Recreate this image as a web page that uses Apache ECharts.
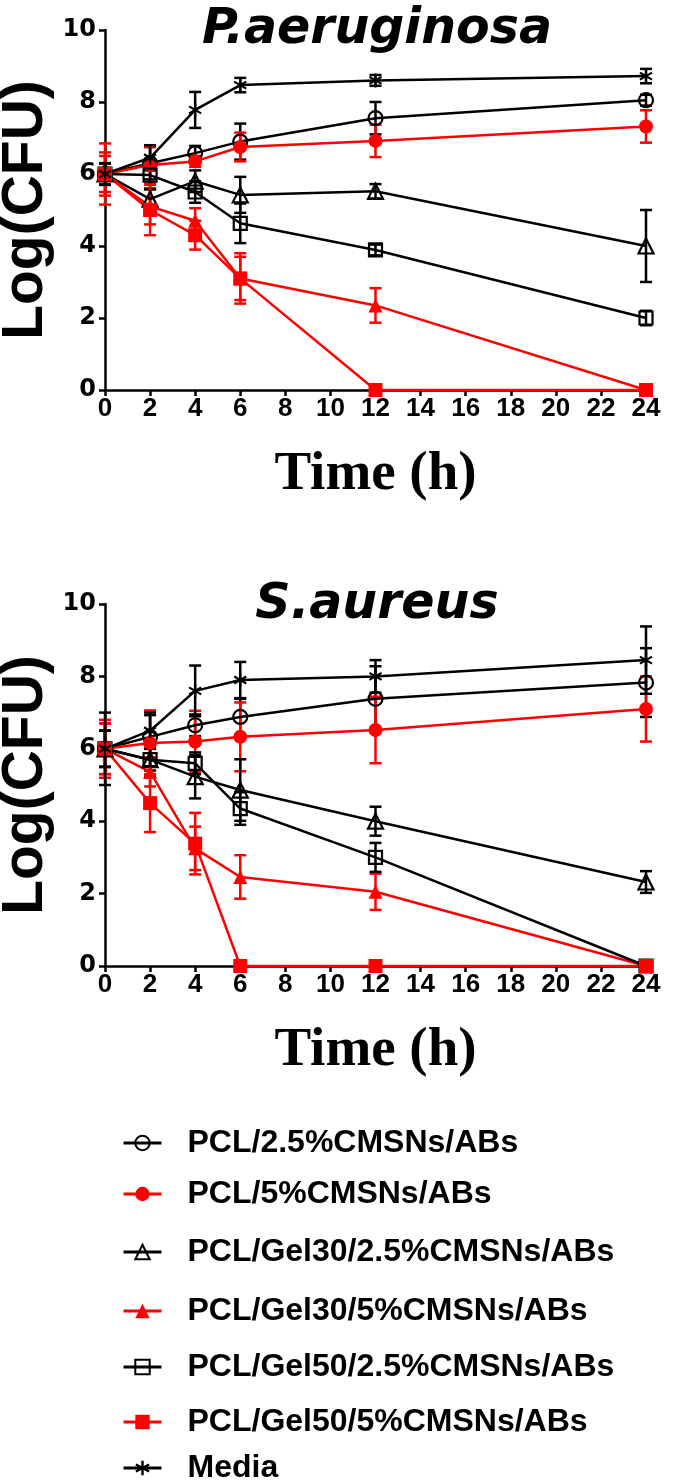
<!DOCTYPE html>
<html><head><meta charset="utf-8">
<script src="https://cdn.jsdelivr.net/npm/echarts@6/dist/echarts.min.js"></script>
<style>html,body{margin:0;padding:0;background:#fff}#c{width:685px;height:1482px}</style>
</head><body><div id="c"></div>
<script>
// ---- data ----
const times = [0, 2, 4, 6, 12, 24];
const xTicks = [0, 2, 4, 6, 8, 10, 12, 14, 16, 18, 20, 22, 24];
const yTicks = [0, 2, 4, 6, 8, 10];
const seriesNames = ['PCL/2.5%CMSNs/ABs', 'PCL/5%CMSNs/ABs', 'PCL/Gel30/2.5%CMSNs/ABs',
  'PCL/Gel30/5%CMSNs/ABs', 'PCL/Gel50/2.5%CMSNs/ABs', 'PCL/Gel50/5%CMSNs/ABs', 'Media'];
const panelTitles = ['P.aeruginosa', 'S.aureus'];

// P. aeruginosa (means, SD)
const pa_c25 = [6.0, 6.3, 6.58, 6.9, 7.55, 8.05];
const pa_c25_err = [0.3, 0.45, 0.2, 0.5, 0.45, 0.15];
const pa_c5 = [6.0, 6.25, 6.35, 6.75, 6.92, 7.32];
const pa_c5_err = [0.85, 0.5, 0.15, 0.4, 0.45, 0.45];
const pa_g30_25 = [6.0, 5.3, 5.8, 5.42, 5.52, 4.0];
const pa_g30_25_err = [0.3, 0.3, 0.3, 0.5, 0.2, 1.0];
const pa_g30_5 = [6.0, 5.1, 4.7, 3.1, 2.35, 0];
const pa_g30_5_err = [0.5, 0.5, 0.35, 0.6, 0.48, 0];
const pa_g50_25 = [6.0, 5.97, 5.5, 4.63, 3.89, 2.0];
const pa_g50_25_err = [0.3, 0.4, 0.3, 0.55, 0.15, 0.2];
const pa_g50_5 = [6.0, 5.0, 4.3, 3.1, 0, 0];
const pa_g50_5_err = [0.6, 0.7, 0.4, 0.7, 0, 0];
const pa_media = [6.0, 6.45, 7.78, 8.47, 8.6, 8.72];
const pa_media_err = [0.3, 0.35, 0.5, 0.2, 0.15, 0.2];

// S. aureus (means, SD)
const sa_c25 = [6.0, 6.33, 6.65, 6.88, 7.38, 7.83];
const sa_c25_err = [0.5, 0.6, 0.3, 0.5, 0.9, 0.95];
const sa_c5 = [6.0, 6.16, 6.2, 6.33, 6.52, 7.1];
const sa_c5_err = [0.8, 0.9, 0.85, 0.95, 0.92, 0.9];
const sa_g30_25 = [6.0, 5.7, 5.23, 4.86, 4.0, 2.32];
const sa_g30_25_err = [0.5, 0.5, 0.6, 0.85, 0.4, 0.3];
const sa_g30_5 = [6.0, 5.36, 3.25, 2.46, 2.05, 0];
const sa_g30_5_err = [0.7, 0.4, 0.6, 0.6, 0.5, 0];
const sa_g50_25 = [6.0, 5.7, 5.6, 4.35, 3.0, 0];
const sa_g50_25_err = [0.5, 0.3, 0.3, 0.45, 0.4, 0];
const sa_g50_5 = [6.0, 4.5, 3.38, 0, 0, 0];
const sa_g50_5_err = [0.7, 0.8, 0.85, 0, 0, 0];
const sa_media = [6.0, 6.5, 7.6, 7.9, 8.0, 8.45];
const sa_media_err = [1.0, 0.5, 0.7, 0.5, 0.45, 0.93];

// ---- styling ----
const RED = '#ff0000', BLACK = '#000000';
const ASTERISK = 'path://M-1.1,-7L1.1,-7L1.1,7L-1.1,7Z M-5.5,-4.45L6.6,2.55L5.5,4.45L-6.6,-2.55Z M-6.6,2.55L5.5,-4.45L6.6,-2.55L-5.5,4.45Z';
const styles = [
  {color: BLACK, symbol: 'circle', size: 14, fill: 'transparent'},
  {color: RED, symbol: 'circle', size: 14, fill: RED},
  {color: BLACK, symbol: 'triangle', size: 15, fill: 'transparent'},
  {color: RED, symbol: 'triangle', size: 14, fill: RED},
  {color: BLACK, symbol: 'rect', size: 13, fill: 'transparent'},
  {color: RED, symbol: 'rect', size: 14, fill: RED},
  {color: BLACK, symbol: ASTERISK, size: 14, fill: BLACK}
];
const panels = [
  {means: [pa_c25, pa_c5, pa_g30_25, pa_g30_5, pa_g50_25, pa_g50_5, pa_media],
   errs: [pa_c25_err, pa_c5_err, pa_g30_25_err, pa_g30_5_err, pa_g50_25_err, pa_g50_5_err, pa_media_err]},
  {means: [sa_c25, sa_c5, sa_g30_25, sa_g30_5, sa_g50_25, sa_g50_5, sa_media],
   errs: [sa_c25_err, sa_c5_err, sa_g30_25_err, sa_g30_5_err, sa_g50_25_err, sa_g50_5_err, sa_media_err]}
];

function errRender(color) {
  return function (params, api) {
    const x = api.value(0), y = api.value(1), e = api.value(2);
    if (!e) return null;
    const a = api.coord([x, y + e]), b = api.coord([x, y - e]);
    const w = 6, st = {stroke: color, lineWidth: 2.5};
    return {type: 'group', children: [
      {type: 'line', shape: {x1: a[0], y1: a[1], x2: b[0], y2: b[1]}, style: st},
      {type: 'line', shape: {x1: a[0] - w, y1: a[1], x2: a[0] + w, y2: a[1]}, style: st},
      {type: 'line', shape: {x1: b[0] - w, y1: b[1], x2: b[0] + w, y2: b[1]}, style: st}
    ]};
  };
}

const series = [];
panels.forEach((p, g) => {
  seriesNames.forEach((name, i) => {
    const s = styles[i];
    series.push({
      type: 'custom', name: name + ' SD', xAxisIndex: g, yAxisIndex: g,
      data: times.map((t, j) => [t, p.means[i][j], p.errs[i][j]]),
      renderItem: errRender(s.color), silent: true
    });
    series.push({
      type: 'line', name: name, xAxisIndex: g, yAxisIndex: g,
      data: times.map((t, j) => [t, p.means[i][j]]),
      symbol: s.symbol, symbolSize: s.size, symbolKeepAspect: true, showAllSymbol: true,
      lineStyle: {color: s.color, width: 2.5},
      itemStyle: {color: s.fill, borderColor: s.color, borderWidth: s.fill === 'transparent' ? 2.2 : 0},
      emphasis: {disabled: true}, animation: false, silent: true
    });
  });
});

const grids = [
  {left: 105, top: 30, width: 541, height: 360, containLabel: false, outerBoundsMode: 'none'},
  {left: 105, top: 604, width: 541, height: 362, containLabel: false, outerBoundsMode: 'none'}
];
const titleCenters = [{x: 377, top: 6}, {x: 377, top: 581}];
const legendRows = [1142, 1193, 1251, 1310, 1366, 1421, 1467];

const axisLineStyle = {color: BLACK, width: 2.5};
const option = {
  backgroundColor: '#fff',
  animation: false,
  title: panelTitles.map((t, i) => ({
    text: t, left: titleCenters[i].x, top: titleCenters[i].top, textAlign: 'center', padding: 0,
    textStyle: {fontFamily: 'DejaVu Sans', fontStyle: 'italic', fontWeight: 'bold', fontSize: 49, color: BLACK}
  })),
  grid: grids,
  xAxis: grids.map((_, i) => ({
    type: 'value', gridIndex: i, min: 0, max: 24, interval: 2,
    name: 'Time (h)', nameLocation: 'middle', nameGap: 57, nameMoveOverlap: false,
    nameTextStyle: {fontFamily: 'Liberation Serif', fontWeight: 'bold', fontSize: 55, color: BLACK},
    axisLine: {onZero: false, lineStyle: axisLineStyle},
    axisTick: {length: 6, lineStyle: axisLineStyle},
    axisLabel: {margin: 6, color: BLACK, fontFamily: 'Liberation Sans', fontWeight: 'bold', fontSize: 26,
      formatter: v => xTicks.includes(v) ? String(v) : ''},
    splitLine: {show: false}
  })),
  yAxis: grids.map((_, i) => ({
    type: 'value', gridIndex: i, min: 0, max: 10, interval: 2,
    name: 'Log(CFU)', nameLocation: 'middle', nameGap: 50, nameRotate: 90, nameMoveOverlap: false,
    nameTextStyle: {fontFamily: 'Liberation Sans', fontWeight: 'bold', fontSize: 57, color: BLACK},
    axisLine: {show: true, onZero: false, lineStyle: axisLineStyle},
    axisTick: {show: true, length: 6, lineStyle: axisLineStyle},
    axisLabel: {margin: 9, color: BLACK, fontFamily: 'DejaVu Sans', fontWeight: 'bold', fontSize: 24,
      formatter: v => yTicks.includes(v) ? String(v) : ''},
    splitLine: {show: false}
  })),
  legend: seriesNames.map((n, i) => ({
    data: [n], left: 122, top: legendRows[i] - 17, orient: 'horizontal', padding: 0,
    itemWidth: 38, itemHeight: 18, selectedMode: false,
    lineStyle: {width: 3},
    textStyle: {fontFamily: 'Liberation Sans', fontWeight: 'bold', fontSize: 32, color: BLACK, lineHeight: 36, padding: [0, 0, 0, 21]}
  })),
  series: series
};
const chart = echarts.init(document.getElementById('c'), null, {renderer: 'canvas'});
chart.setOption(option);
</script></body></html>
